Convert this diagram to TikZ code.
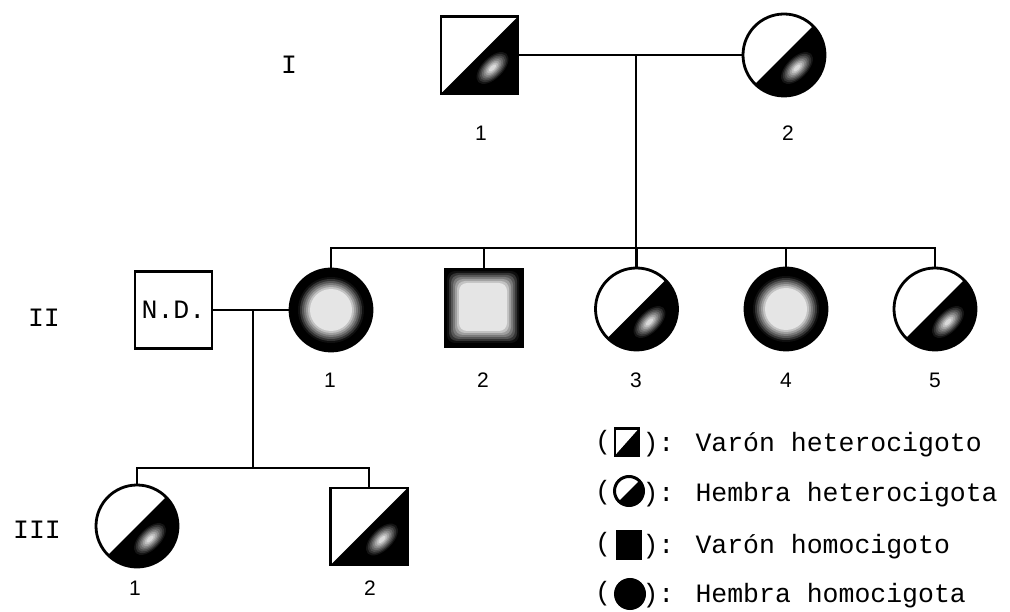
\documentclass[tikz,border=0pt]{standalone}
\usepackage{fontspec}
\setmainfont{Liberation Sans}
\newfontfamily\monofont{Liberation Mono}
\usetikzlibrary{calc}

\tikzset{
  conn/.style={line width=2.5pt},
  female/.style={circle, draw, line width=2.8pt, minimum size=82pt, inner sep=0pt},
  male/.style={rectangle, draw, line width=2.8pt, minimum size=77pt, inner sep=0pt},
  % heterozygote: lower right half dark
  het/.style={path picture={
    \fill[black] (path picture bounding box.south west) -- (path picture bounding box.north east)
      -- (path picture bounding box.south east) -- cycle;
  }},
  % homozygote (circle): dark rim, pale centre
  homc/.style={path picture={
    \fill[black] (path picture bounding box.south west) rectangle (path picture bounding box.north east);
    \foreach \i in {0,...,6}{
      \pgfmathtruncatemacro\lev{6+14*\i}
      \fill[white!\lev!black] (path picture bounding box.center) circle ({33-2*\i});
    }
  }},
  % homozygote (square): dark rim, pale centre
  homs/.style={path picture={
    \fill[black] (path picture bounding box.south west) rectangle (path picture bounding box.north east);
    \foreach \i in {0,...,6}{
      \pgfmathtruncatemacro\lev{6+14*\i}
      \fill[white!\lev!black, rounded corners=8pt]
        ($(path picture bounding box.center)+(-37+2*\i,-37+2*\i)$) rectangle
        ($(path picture bounding box.center)+(35-2*\i,35-2*\i)$);
    }
  }},
  lmale/.style={rectangle, draw, line width=2.6pt, minimum width=24pt, minimum height=27pt, inner sep=0pt},
  lfemale/.style={circle, draw, line width=3pt, minimum size=29pt, inner sep=0pt},
  lhet/.style={path picture={
    \fill[black] (path picture bounding box.south west) -- (path picture bounding box.north east)
      -- (path picture bounding box.south east) -- cycle;
  }},
  lhom/.style={fill=black},
  num/.style={font=\fontsize{21}{24}\selectfont},
  gen/.style={font=\monofont\fontsize{26.5}{30}\selectfont},
}

% pale stippled spot inside the dark half of a heterozygote symbol
\newcommand\hetspot[1]{%
  \begin{scope}[shift={($(#1.center)+(13,13)$)}, rotate=45]
    \foreach \i in {0,...,7}{
      \pgfmathtruncatemacro\lev{8+11*\i}
      \fill[white!\lev!black] (0,0) ellipse [x radius={20-2.2*\i}, y radius={10.5-1.2*\i}];
    }
  \end{scope}}

\begin{document}
\begin{tikzpicture}[x=1pt,y=-1pt]
\useasboundingbox (0,0) rectangle (1010,612);

% generation I
\node[male,het]   (i1) at (479.5,55) {};
\node[female,het] (i2) at (784,55) {};
\node[num] (n-i1) at (481,133) {1};
\node[num] (n-i2) at (788,133) {2};

% generation II
\node[male,gen] (nd) at (173.5,310) {N.D.};
\node[female,homc] (ii1) at (331,310) {};
\node[male,homs]   (ii2) at (484,308) {};
\node[female,het]  (ii3) at (636.5,309) {};
\node[female,homc] (ii4) at (786,309) {};
\node[female,het]  (ii5) at (935,309) {};
\node[num] (n-ii1) at (330,380) {1};
\node[num] (n-ii2) at (483,380) {2};
\node[num] (n-ii3) at (636,380) {3};
\node[num] (n-ii4) at (786,380) {4};
\node[num] (n-ii5) at (935,380) {5};

% generation III
\node[female,het] (iii1) at (137,526) {};
\node[male,het]   (iii2) at (369,526.5) {};
\node[num] (n-iii1) at (135,588) {1};
\node[num] (n-iii2) at (370,588) {2};

% spots in the dark halves
\foreach \n in {i1,i2,ii3,ii5,iii1,iii2} \hetspot{\n};

% generation numerals
\node[gen] (g1) at (289,65) {I};
\node[gen] (g2) at (44,318) {II};
\node[gen] (g3) at (37,530) {III};

% connectors
\coordinate (c1) at (636,55);
\coordinate (s2) at (636,248);
\draw[conn] (i1.east) -- (i2.west);
\draw[conn] (c1) -- (s2);
\draw[conn] (ii1.north) -- (ii1.north |- s2) -- (ii5.north |- s2) -- (ii5.north);
\foreach \n in {ii2,ii3,ii4} \draw[conn] (\n.north) -- (\n.north |- s2);

\coordinate (c2) at (253,310);
\coordinate (s3) at (253,468);
\draw[conn] (nd.east) -- (ii1.west);
\draw[conn] (c2) -- (s3);
\draw[conn] (iii1.north) -- (iii1.north |- s3) -- (iii2.north |- s3) -- (iii2.north);

% legend
\node[gen] (lp1) at (603,443) {(};
\node[lmale,lhet] (ls1) at (627,442) {};
\node[gen,anchor=base west] (lt1) at (639,451) {): Varón heterocigoto};

\node[gen] (lp2) at (603,493) {(};
\node[lfemale,lhet] (ls2) at (629,491) {};
\node[gen,anchor=base west] (lt2) at (639,501) {): Hembra heterocigota};

\node[gen] (lp3) at (603,545) {(};
\node[lmale,lhom] (ls3) at (629,545) {};
\node[gen,anchor=base west] (lt3) at (639,553) {): Varón homocigoto};

\node[gen] (lp4) at (603,594) {(};
\node[lfemale,lhom] (ls4) at (630,594) {};
\node[gen,anchor=base west] (lt4) at (639,602) {): Hembra homocigota};
\end{tikzpicture}
\end{document}
